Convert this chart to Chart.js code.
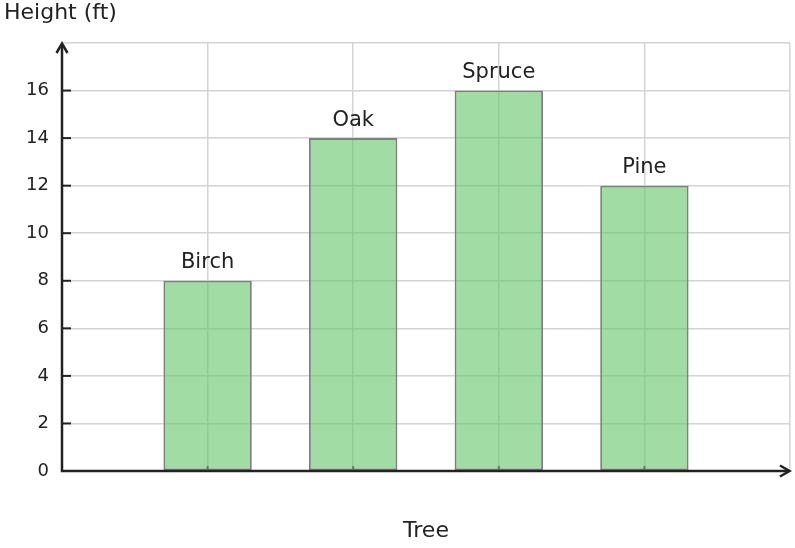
<!DOCTYPE html>
<html><head><meta charset="utf-8">
<script src="https://cdn.jsdelivr.net/npm/chart.js@4"></script>
<style>html,body{margin:0;padding:0;background:#fff}#wrap{width:795px;height:548px;position:relative}</style>
</head><body><div id="wrap"><canvas id="c"></canvas></div>
<script>
const trees = ['Birch', 'Oak', 'Spruce', 'Pine'];
const heights = [8, 14, 16, 12];
const yTickValues = [0, 2, 4, 6, 8, 10, 12, 14, 16];
const yTitle = 'Height (ft)';
const xTitle = 'Tree';

const FONT = '"DejaVu Sans", sans-serif';
const AXIS = '#222222';

const deco = {
  id: 'deco',
  beforeDatasetsDraw(chart) {
    const {ctx, chartArea: a, scales: {x}} = chart;
    ctx.save();
    ctx.strokeStyle = '#333';
    ctx.lineWidth = 2;
    trees.forEach((t, i) => {
      const px = x.getPixelForValue(i + 1);
      ctx.beginPath(); ctx.moveTo(px, a.bottom); ctx.lineTo(px, a.bottom - 5); ctx.stroke();
    });
    ctx.restore();
  },
  afterDatasetsDraw(chart) {
    const {ctx, chartArea: a, scales: {y}} = chart;
    ctx.save();
    // bar labels
    ctx.font = '21px ' + FONT;
    ctx.fillStyle = '#222';
    ctx.textAlign = 'center';
    ctx.textBaseline = 'alphabetic';
    chart.getDatasetMeta(0).data.forEach((bar, i) => {
      ctx.fillText(trees[i], bar.x, bar.y - 12.5);
    });
    // y inward ticks
    ctx.strokeStyle = AXIS;
    ctx.lineWidth = 2;
    yTickValues.forEach(v => {
      const py = y.getPixelForValue(v);
      ctx.beginPath(); ctx.moveTo(a.left, py); ctx.lineTo(a.left + 9, py); ctx.stroke();
    });
    // axes
    ctx.lineWidth = 2.5;
    ctx.lineCap = 'butt';
    ctx.beginPath();
    ctx.moveTo(a.left, a.top + 1); ctx.lineTo(a.left, a.bottom);
    ctx.lineTo(a.right - 1, a.bottom);
    ctx.stroke();
    // arrows
    ctx.lineJoin = 'miter';
    ctx.beginPath();
    ctx.moveTo(a.left - 5.5, a.top + 10); ctx.lineTo(a.left, a.top + 0.5); ctx.lineTo(a.left + 5.5, a.top + 10);
    ctx.stroke();
    ctx.beginPath();
    ctx.moveTo(a.right - 10, a.bottom - 5.5); ctx.lineTo(a.right - 0.5, a.bottom); ctx.lineTo(a.right - 10, a.bottom + 5.5);
    ctx.stroke();
    ctx.restore();
  }
};

new Chart(document.getElementById('c'), {
  type: 'bar',
  data: {
    datasets: [{
      data: heights.map((h, i) => ({x: i + 1, y: h})),
      backgroundColor: 'rgba(98,197,103,0.6)',
      borderColor: '#7f7f7f',
      borderWidth: 1.8,
      borderSkipped: false,
      barPercentage: 0.607,
      categoryPercentage: 1.0
    }]
  },
  options: {
    responsive: true,
    maintainAspectRatio: false,
    animation: false,
    layout: {padding: {left: 4, right: 5, top: 0, bottom: 0}},
    plugins: {
      legend: {display: false},
      tooltip: {enabled: false},
      title: {
        display: true,
        text: yTitle,
        align: 'start',
        color: '#222',
        font: {family: FONT, size: 22, weight: 'normal', lineHeight: 1.2},
        padding: {top: 0, bottom: 16.6}
      }
    },
    scales: {
      x: {
        type: 'linear',
        min: 0, max: 5,
        offset: false,
        grid: {color: '#d4d4d4', lineWidth: 1.5, drawTicks: false, offset: false},
        border: {display: false},
        ticks: {display: false, stepSize: 1},
        title: {
          display: true, text: xTitle, color: '#222',
          font: {family: FONT, size: 22, lineHeight: 1.2},
          padding: {top: 0, bottom: 4}
        },
        afterFit(s) { s.height = 77; }
      },
      y: {
        min: 0, max: 18,
        grid: {color: '#d4d4d4', lineWidth: 1.5, drawTicks: false},
        border: {display: false},
        ticks: {
          stepSize: 2, padding: 13, color: '#222',
          font: {family: FONT, size: 18},
          callback: v => yTickValues.includes(v) ? String(v) : ''
        },
        afterFit(s) { s.width = 58; }
      }
    }
  },
  plugins: [deco]
});
</script>
</body></html>
